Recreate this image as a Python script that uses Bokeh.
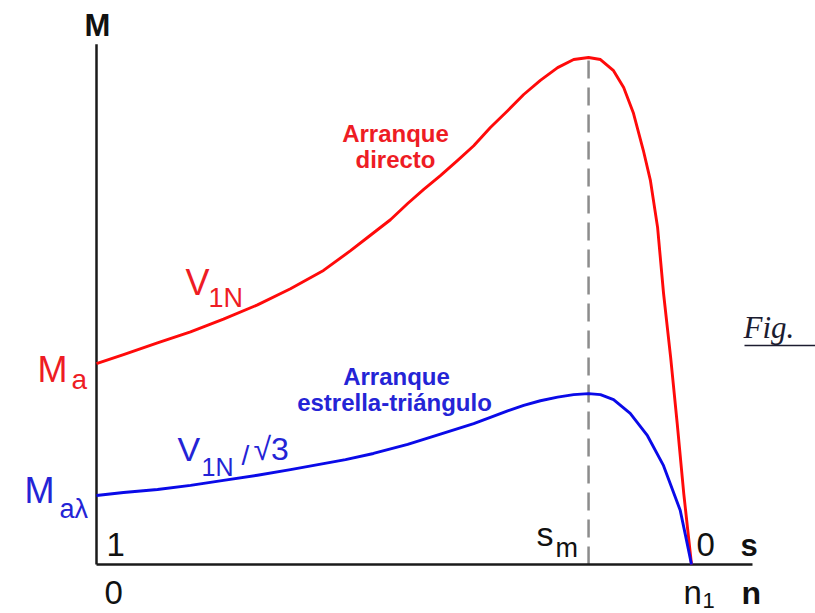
from bokeh.plotting import figure
from bokeh.models import Label, Range1d
from bokeh.embed import file_html
from bokeh.resources import INLINE

# ---- data (n relative to synchronous speed n1 = 1, torque relative to max torque) ----
n_direct = [0.0, 0.0454, 0.1025, 0.158, 0.2134, 0.2706, 0.326, 0.3815, 0.427, 0.4555,
            0.494, 0.523, 0.550, 0.578, 0.607, 0.634, 0.662, 0.691, 0.718, 0.746,
            0.775, 0.802, 0.827, 0.847, 0.869, 0.886, 0.9025, 0.919, 0.931, 0.943,
            0.953, 0.965, 0.976, 0.987, 1.0]
M_direct = [0.396, 0.414, 0.437, 0.459, 0.484, 0.512, 0.544, 0.580, 0.619, 0.645,
            0.680, 0.712, 0.740, 0.767, 0.797, 0.826, 0.862, 0.895, 0.927, 0.955,
            0.980, 0.996, 1.0, 0.996, 0.974, 0.941, 0.890, 0.817, 0.757, 0.665,
            0.535, 0.408, 0.278, 0.140, 0.0]
n_star = [0.0, 0.0454, 0.1025, 0.158, 0.2134, 0.2706, 0.326, 0.3815, 0.4185, 0.4655,
          0.523, 0.578, 0.634, 0.662, 0.691, 0.718, 0.746, 0.775, 0.802, 0.827,
          0.847, 0.869, 0.897, 0.926, 0.953, 0.981, 0.990, 1.0]
M_star = [0.136, 0.142, 0.148, 0.156, 0.166, 0.176, 0.187, 0.199, 0.207, 0.219,
          0.237, 0.257, 0.278, 0.290, 0.303, 0.314, 0.323, 0.330, 0.335, 0.337,
          0.335, 0.325, 0.298, 0.254, 0.195, 0.107, 0.057, 0.0]
n_sm = 0.827          # speed at maximum torque (slip s_m)
n_axis_end = 1.1025   # end of horizontal axis
M_axis_top = 1.026    # top of vertical axis

# ---- pixel helpers for annotation placement ----
def PX(px):
    return (px - 96) / 595.0

def PY(py):
    return (564 - py) / 507.0

W, H = 815, 613
p = figure(width=W, height=H, output_backend="svg", toolbar_location=None,
           x_range=Range1d(PX(0), PX(W)), y_range=Range1d(PY(H), PY(0)),
           x_axis_type=None, y_axis_type=None, min_border=0)
p.outline_line_color = None
p.background_fill_color = "white"
p.border_fill_color = "white"

RED_L = "#ff0a0a"
BLUE_L = "#0a0ae8"
RED_T = "#ee1c24"
BLUE_T = "#2424d6"

# dashed line at s_m
p.line([n_sm, n_sm], [0, M_direct[n_direct.index(n_sm)]], line_color="#8c8c8c",
       line_width=2.5, line_dash="18 9")

# axes
p.line([0, 0], [0, M_axis_top], line_color="#1a1a1a", line_width=2.5)
p.line([0, n_axis_end], [0, 0], line_color="#1a1a1a", line_width=2.5)

# curves
p.line(n_direct, M_direct, line_color=RED_L, line_width=2.9, line_join="round")
p.line(n_star, M_star, line_color=BLUE_L, line_width=2.9, line_join="round")


def lab(text, px, py, size, color="#111111", style="normal", align="left",
        font="Liberation Sans"):
    # py = desired baseline (pixels from top); correct for renderer offset
    p.add_layout(Label(x=PX(px), y=PY(py - 0.4 * size), text=text, text_font=font,
                       text_font_size=f"{size}px", text_color=color,
                       text_font_style=style, text_align=align,
                       text_baseline="alphabetic"))

lab("M", 97, 37, 31, "#111111", "bold", "center")

lab("Arranque", 395, 143, 24, RED_T, "bold", "center")
lab("directo", 395, 169, 24, RED_T, "bold", "center")
lab("Arranque", 396, 386, 24, BLUE_T, "bold", "center")
lab("estrella-triángulo", 394, 412, 24, BLUE_T, "bold", "center")

lab("M", 37, 383, 36, RED_T)
lab("a", 71, 390, 28, RED_T)
lab("V", 185, 296, 36, RED_T)
lab("1N", 208, 308, 27, RED_T)

lab("M", 24, 504, 36, BLUE_T)
lab("aλ", 59, 519, 27, BLUE_T)
lab("V", 177, 462, 34, BLUE_T)
lab("1N", 201, 476, 25, BLUE_T)
lab("/", 241, 466, 28, BLUE_T)
lab("√3", 253, 461, 32, BLUE_T)

lab("1", 106, 557, 33)
lab("s", 536, 547, 34)
lab("m", 555, 558, 27)
lab("0", 696, 557, 33)
lab("s", 740, 557, 31, "#111111", "bold")
lab("0", 104, 605, 33)
lab("n", 683, 605, 33)
lab("1", 702, 609, 22)
lab("n", 741, 605, 32, "#111111", "bold")

lab("Fig.", 743, 339, 31, "#1c1c30", "italic", font="Liberation Serif")
p.line([PX(744), PX(815)], [PY(345), PY(345)], line_color="#1c1c30", line_width=1.5)

open("out.html", "w").write(file_html(p, INLINE))
